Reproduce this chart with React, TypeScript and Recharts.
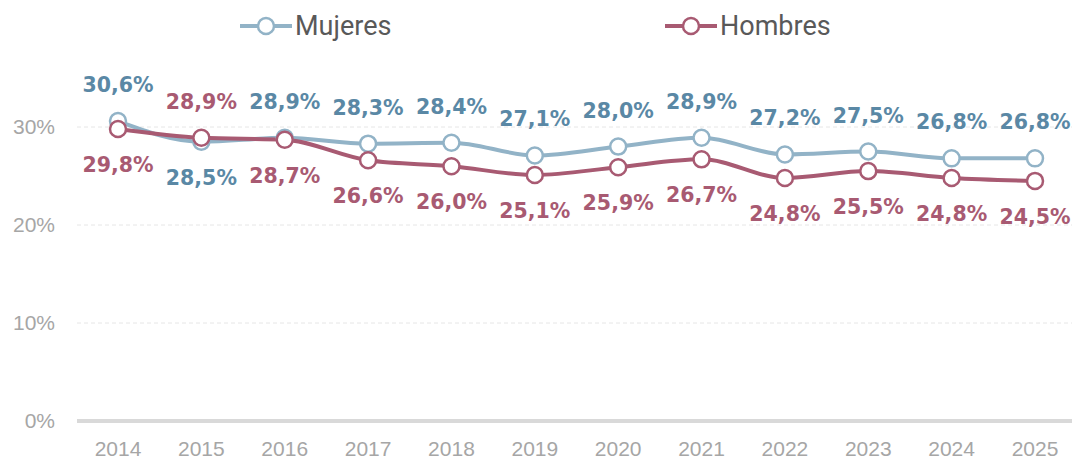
import React from "react";
import { LineChart, Line, XAxis, YAxis, CartesianGrid, LabelList } from "recharts";

const years = ["2014", "2015", "2016", "2017", "2018", "2019", "2020", "2021", "2022", "2023", "2024", "2025"];
const mujeres = [30.6, 28.5, 28.9, 28.3, 28.4, 27.1, 28.0, 28.9, 27.2, 27.5, 26.8, 26.8];
const hombres = [29.8, 28.9, 28.7, 26.6, 26.0, 25.1, 25.9, 26.7, 24.8, 25.5, 24.8, 24.5];
const yTicks = [0, 10, 20, 30];
const yMax = 35;

const data = years.map((y, i) => ({ year: y, Mujeres: mujeres[i], Hombres: hombres[i] }));

const M_LINE = "#92b3c7";
const M_TEXT = "#5a88a5";
const H_LINE = "#a85a72";
const H_TEXT = "#a85a72";

const fmt = (v: number) => v.toFixed(1).replace(".", ",") + "%";

const makeLabel = (own: number[], other: number[], color: string) => (props: any) => {
  const { x, y, index } = props;
  const above = own[index] >= other[index];
  return (
    <text
      x={x}
      y={above ? y - 36 : y + 36}
      textAnchor="middle"
      dominantBaseline="central"
      fill={color}
      fontFamily="'DejaVu Sans', sans-serif"
      fontWeight="bold"
      fontSize={20.5}
    >
      {fmt(own[index])}
    </text>
  );
};

const LegendItem = ({ color, label, left }: { color: string; label: string; left: number }) => (
  <div style={{ position: "absolute", left, top: 10, display: "flex", alignItems: "center", height: 32 }}>
    <svg width={54} height={32}>
      <line x1={1} y1={16} x2={53} y2={16} stroke={color} strokeWidth={4} />
      <circle cx={27} cy={16} r={8} fill="#fff" stroke={color} strokeWidth={2.5} />
    </svg>
    <span style={{ fontFamily: "Roboto, sans-serif", fontSize: 27, color: "#595959", marginLeft: 2 }}>{label}</span>
  </div>
);

const gridGen = (props: any) => {
  const { offset } = props;
  return yTicks
    .filter((t) => t > 0)
    .map((t) => offset.top + offset.height * (1 - t / yMax));
};

export default function App() {
  return (
    <div style={{ position: "absolute", left: 0, top: 0, width: 1072, height: 459, background: "#fff" }}>
      <LegendItem color={M_LINE} label="Mujeres" left={239} />
      <LegendItem color={H_LINE} label="Hombres" left={664} />
      <LineChart width={1072} height={459} data={data} margin={{ top: 78, right: -4, left: 0, bottom: 0 }}>
        <CartesianGrid
          vertical={false}
          stroke="#e6e6e6"
          strokeDasharray="4 3"
          horizontalCoordinatesGenerator={gridGen}
        />
        <XAxis
          dataKey="year"
          height={38}
          padding={{ left: 41, right: 41 }}
          axisLine={{ stroke: "#d9d9d9", strokeWidth: 4 }}
          tickLine={false}
          tickSize={0}
          tickMargin={20}
          tick={{ fill: "#a6a6a6", fontSize: 21, fontFamily: "'Liberation Sans', Arial, sans-serif" }}
        />
        <YAxis
          width={77}
          domain={[0, yMax]}
          ticks={yTicks}
          axisLine={false}
          tickLine={false}
          tickSize={0}
          tickMargin={22}
          tickFormatter={(v: number) => `${v}%`}
          tick={{ fill: "#a6a6a6", fontSize: 21, fontFamily: "'Liberation Sans', Arial, sans-serif" }}
        />
        <Line
          type="monotone"
          dataKey="Mujeres"
          stroke={M_LINE}
          strokeWidth={4}
          dot={{ r: 8, fill: "#fff", stroke: M_LINE, strokeWidth: 2.5 }}
          activeDot={false}
          isAnimationActive={false}
        >
          <LabelList dataKey="Mujeres" content={makeLabel(mujeres, hombres, M_TEXT)} />
        </Line>
        <Line
          type="monotone"
          dataKey="Hombres"
          stroke={H_LINE}
          strokeWidth={4}
          dot={{ r: 8, fill: "#fff", stroke: H_LINE, strokeWidth: 2.5 }}
          activeDot={false}
          isAnimationActive={false}
        >
          <LabelList dataKey="Hombres" content={makeLabel(hombres, mujeres, H_TEXT)} />
        </Line>
      </LineChart>
    </div>
  );
}
